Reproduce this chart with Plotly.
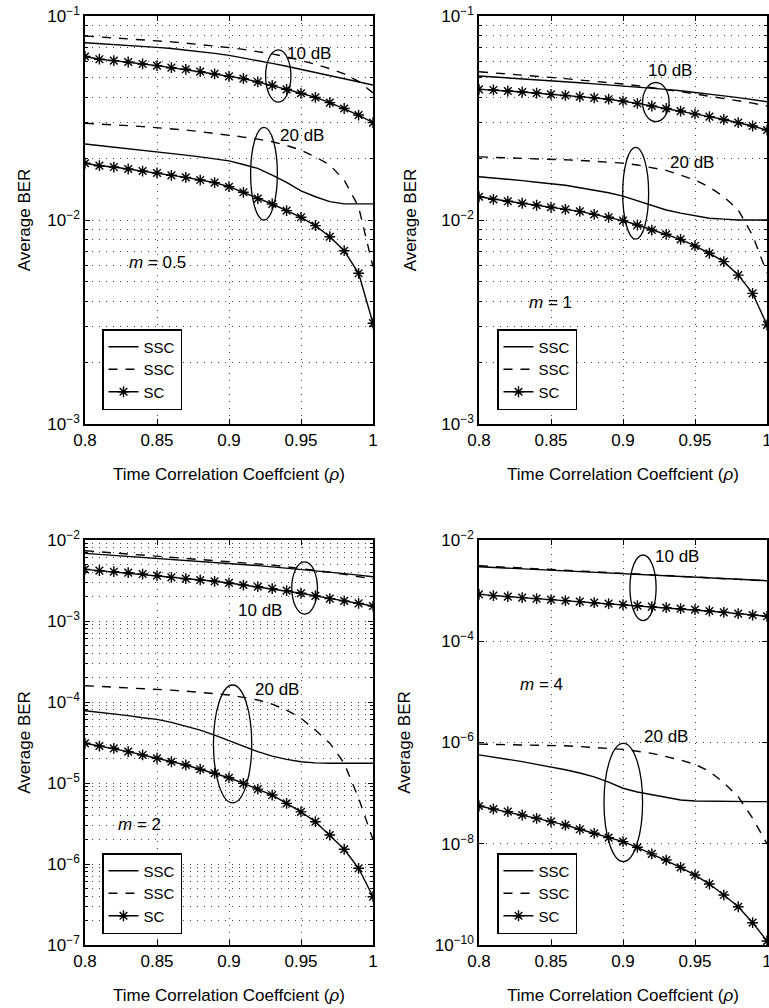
import plotly.graph_objects as go

# ---------------- data ----------------
rho = [0.80, 0.81, 0.82, 0.83, 0.84, 0.85, 0.86, 0.87, 0.88, 0.89, 0.90,
       0.91, 0.92, 0.93, 0.94, 0.95, 0.96, 0.97, 0.98, 0.99, 1.00]

# m = 0.5
m05_ssc_solid_10 = [0.0740, 0.0733, 0.0725, 0.0718, 0.0710, 0.0702, 0.0693, 0.0682, 0.0670, 0.0656, 0.0641,
                    0.0623, 0.0605, 0.0586, 0.0567, 0.0548, 0.0530, 0.0512, 0.0494, 0.0476, 0.0459]
m05_ssc_dash_10 = [0.0798, 0.0790, 0.0782, 0.0774, 0.0766, 0.0757, 0.0747, 0.0736, 0.0725, 0.0713, 0.0700,
                   0.0686, 0.0670, 0.0652, 0.0630, 0.0606, 0.0580, 0.0552, 0.0520, 0.0478, 0.0420]
m05_sc_10 = [0.0633, 0.0614, 0.0604, 0.0595, 0.0582, 0.0571, 0.0558, 0.0548, 0.0534, 0.0520, 0.0506,
             0.0493, 0.0475, 0.0457, 0.0437, 0.0418, 0.0399, 0.0376, 0.0352, 0.0327, 0.0300]
m05_ssc_solid_20 = [0.0236, 0.0232, 0.0228, 0.0224, 0.0220, 0.0216, 0.0212, 0.0208, 0.0204, 0.0200, 0.0195,
                    0.0187, 0.0179, 0.0166, 0.0153, 0.0139, 0.0130, 0.0123, 0.0120, 0.0120, 0.0120]
m05_ssc_dash_20 = [0.0298, 0.0296, 0.0293, 0.0290, 0.0287, 0.0284, 0.0280, 0.0276, 0.0271, 0.0266, 0.0261,
                   0.0255, 0.0249, 0.0242, 0.0232, 0.0220, 0.0204, 0.0186, 0.0157, 0.0116, 0.0059]
m05_sc_20 = [0.01897, 0.01846, 0.01818, 0.01778, 0.01738, 0.01700, 0.01656, 0.01618, 0.01570, 0.01524, 0.01456,
             0.01367, 0.01273, 0.01198, 0.01111, 0.01031, 0.00938, 0.00828, 0.00707, 0.00548, 0.00312]

# m = 1
m1_ssc_solid_10 = [0.0508, 0.0503, 0.0498, 0.0492, 0.0487, 0.0482, 0.0477, 0.0471, 0.0465, 0.0460, 0.0454,
                   0.0449, 0.0443, 0.0437, 0.0430, 0.0423, 0.0415, 0.0406, 0.0398, 0.0389, 0.0380]
m1_ssc_dash_10 = [0.0533, 0.0527, 0.0520, 0.0513, 0.0507, 0.0500, 0.0493, 0.0486, 0.0479, 0.0471, 0.0464,
                  0.0455, 0.0446, 0.0437, 0.0426, 0.0415, 0.0405, 0.0395, 0.0385, 0.0374, 0.0362]
m1_sc_10 = [0.0437, 0.0434, 0.0429, 0.0424, 0.0419, 0.0413, 0.0408, 0.0402, 0.0397, 0.0391, 0.0383,
            0.0373, 0.0362, 0.0352, 0.0342, 0.0331, 0.0321, 0.0311, 0.0300, 0.0289, 0.0276]
m1_ssc_solid_20 = [0.0163, 0.0161, 0.0158, 0.0156, 0.0153, 0.0151, 0.0148, 0.0144, 0.0140, 0.0136, 0.0131,
                   0.0124, 0.0118, 0.0112, 0.0108, 0.0105, 0.0102, 0.0101, 0.0100, 0.0100, 0.0100]
m1_ssc_dash_20 = [0.0204, 0.0203, 0.0202, 0.0201, 0.0200, 0.0199, 0.0197, 0.0196, 0.0194, 0.0192, 0.0190,
                  0.0186, 0.0181, 0.0175, 0.0166, 0.0157, 0.0145, 0.0130, 0.0112, 0.0084, 0.0055]
m1_sc_20 = [0.0130, 0.01262, 0.01235, 0.01208, 0.01181, 0.01155, 0.01128, 0.01102, 0.01066, 0.01031, 0.00993,
            0.00945, 0.00893, 0.00851, 0.00804, 0.00746, 0.00687, 0.00625, 0.00537, 0.00437, 0.00306]

# m = 2
m2_ssc_solid_10 = [0.00684, 0.00665, 0.00648, 0.00630, 0.00613, 0.00597, 0.00580, 0.00563, 0.00547, 0.00531, 0.00515,
                   0.00498, 0.00482, 0.00466, 0.00450, 0.00434, 0.00417, 0.00400, 0.00384, 0.00368, 0.00352]
m2_ssc_dash_10 = [0.00738, 0.00715, 0.00694, 0.00672, 0.00652, 0.00632, 0.00613, 0.00596, 0.00580, 0.00564, 0.00548,
                  0.00530, 0.00511, 0.00490, 0.00468, 0.00446, 0.00423, 0.00400, 0.00377, 0.00354, 0.00330]
m2_sc_10 = [0.00434, 0.00418, 0.00406, 0.00395, 0.00380, 0.00363, 0.00346, 0.00333, 0.00321, 0.00309, 0.00295,
            0.00278, 0.00265, 0.00251, 0.00237, 0.00220, 0.00204, 0.00189, 0.00177, 0.00165, 0.00153]
m2_ssc_solid_20 = [7.8e-5, 7.5e-5, 7.1e-5, 6.8e-5, 6.4e-5, 6.1e-5, 5.6e-5, 5.0e-5, 4.5e-5, 3.9e-5, 3.33e-5,
                   2.85e-5, 2.44e-5, 2.15e-5, 1.96e-5, 1.83e-5, 1.77e-5, 1.75e-5, 1.75e-5, 1.75e-5, 1.75e-5]
m2_ssc_dash_20 = [1.59e-4, 1.56e-4, 1.53e-4, 1.50e-4, 1.47e-4, 1.44e-4, 1.40e-4, 1.36e-4, 1.32e-4, 1.27e-4, 1.22e-4,
                  1.14e-4, 1.06e-4, 9.4e-5, 7.96e-5, 6.3e-5, 4.5e-5, 3.1e-5, 1.75e-5, 6.5e-6, 2.0e-6]
m2_sc_20 = [3.09e-5, 2.86e-5, 2.68e-5, 2.44e-5, 2.22e-5, 2.02e-5, 1.83e-5, 1.67e-5, 1.48e-5, 1.32e-5, 1.16e-5,
            9.9e-6, 8.4e-6, 7.1e-6, 5.6e-6, 4.4e-6, 3.33e-6, 2.28e-6, 1.52e-6, 8.85e-7, 3.95e-7]

# m = 4
m4_ssc_solid_10 = [2.97e-3, 2.88e-3, 2.80e-3, 2.72e-3, 2.64e-3, 2.56e-3, 2.48e-3, 2.41e-3, 2.34e-3, 2.27e-3, 2.20e-3,
                   2.13e-3, 2.06e-3, 2.00e-3, 1.94e-3, 1.88e-3, 1.82e-3, 1.76e-3, 1.70e-3, 1.63e-3, 1.57e-3]
m4_ssc_dash_10 = [3.10e-3, 3.00e-3, 2.90e-3, 2.81e-3, 2.72e-3, 2.63e-3, 2.55e-3, 2.46e-3, 2.38e-3, 2.30e-3, 2.22e-3,
                  2.14e-3, 2.07e-3, 2.00e-3, 1.93e-3, 1.87e-3, 1.80e-3, 1.74e-3, 1.68e-3, 1.62e-3, 1.56e-3]
m4_sc_10 = [8.45e-4, 7.95e-4, 7.60e-4, 7.26e-4, 6.94e-4, 6.63e-4, 6.34e-4, 6.05e-4, 5.78e-4, 5.52e-4, 5.28e-4,
            5.05e-4, 4.82e-4, 4.61e-4, 4.40e-4, 4.21e-4, 3.96e-4, 3.73e-4, 3.51e-4, 3.30e-4, 3.11e-4]
m4_ssc_solid_20 = [5.7e-7, 5.2e-7, 4.7e-7, 4.2e-7, 3.7e-7, 3.3e-7, 2.9e-7, 2.5e-7, 2.1e-7, 1.65e-7, 1.25e-7,
                   1.05e-7, 9.2e-8, 8.2e-8, 7.3e-8, 7.0e-8, 6.9e-8, 6.8e-8, 6.8e-8, 6.8e-8, 6.8e-8]
m4_ssc_dash_20 = [9.3e-7, 9.2e-7, 9.1e-7, 9.0e-7, 8.9e-7, 8.8e-7, 8.6e-7, 8.3e-7, 8.0e-7, 7.7e-7, 7.3e-7,
                  6.7e-7, 6.1e-7, 5.25e-7, 4.5e-7, 3.7e-7, 2.7e-7, 1.6e-7, 8.5e-8, 3.2e-8, 1.0e-8]
m4_sc_20 = [5.57e-8, 4.86e-8, 4.30e-8, 3.70e-8, 3.18e-8, 2.73e-8, 2.34e-8, 1.93e-8, 1.61e-8, 1.32e-8, 1.10e-8,
            8.5e-9, 6.3e-9, 4.77e-9, 3.42e-9, 2.41e-9, 1.60e-9, 9.7e-10, 5.7e-10, 2.76e-10, 1.2e-10]

x_tickvals = [0.8, 0.85, 0.9, 0.95, 1.0]
x_ticktext = ["0.8", "0.85", "0.9", "0.95", "1"]

panel_m = ["0.5", "1", "2", "4"]
y_decades = [(-3, -1, 1, True), (-3, -1, 1, True), (-7, -2, 1, True), (-10, -2, 2, False)]

series = [
    (m05_ssc_solid_10, m05_ssc_dash_10, m05_sc_10, m05_ssc_solid_20, m05_ssc_dash_20, m05_sc_20),
    (m1_ssc_solid_10, m1_ssc_dash_10, m1_sc_10, m1_ssc_solid_20, m1_ssc_dash_20, m1_sc_20),
    (m2_ssc_solid_10, m2_ssc_dash_10, m2_sc_10, m2_ssc_solid_20, m2_ssc_dash_20, m2_sc_20),
    (m4_ssc_solid_10, m4_ssc_dash_10, m4_sc_10, m4_ssc_solid_20, m4_ssc_dash_20, m4_sc_20),
]

# ---------------- layout geometry ----------------
W, H = 769, 1008
FONT = "Liberation Sans, Arial, Helvetica, sans-serif"
FS = 17
LFS = 15

xdom = [(85 / W, 373 / W), (479 / W, 767 / W), (85 / W, 373 / W), (479 / W, 767 / W)]
ydom = [(1 - 424 / H, 1 - 16 / H), (1 - 424 / H, 1 - 16 / H),
        (1 - 945 / H, 1 - 540 / H), (1 - 945 / H, 1 - 540 / H)]
legend_pos = [(102 / W, 1 - 329 / H), (497 / W, 1 - 329 / H),
              (102 / W, 1 - 853 / H), (497 / W, 1 - 853 / H)]
y_standoff = [12, 20, 12, 20]

# ellipses (domain coords x0,x1,y0,y1) and labels (x, y) per panel
ellipses = [
    [(0.627, 0.715, 0.789, 0.917), (0.575, 0.668, 0.500, 0.727)],
    [(0.568, 0.660, 0.741, 0.837), (0.499, 0.589, 0.453, 0.678)],
    [(0.718, 0.807, 0.817, 0.946), (0.446, 0.579, 0.351, 0.642)],
    [(0.524, 0.615, 0.801, 0.963), (0.434, 0.568, 0.206, 0.498)],
]
labels10 = [(0.778, 0.909), (0.663, 0.866), (0.608, 0.827), (0.686, 0.959)]
labels20 = [(0.752, 0.706), (0.738, 0.641), (0.666, 0.631), (0.649, 0.516)]
labelsm = [(0.25, 0.395), (0.247, 0.297), (0.189, 0.298), (0.218, 0.644)]

DASH = "9px,8px"
GRID = dict(gridcolor="#444444", griddash="1px,6px", gridwidth=1)

fig = go.Figure()
shapes = []
annotations = []
layout_axes = {}

for i in range(4):
    sfx = "" if i == 0 else str(i + 1)
    xa, ya = "x" + sfx, "y" + sfx
    leg = "legend" if i == 0 else "legend" + str(i + 1)
    s_solid10, s_dash10, sc10, s_solid20, s_dash20, sc20 = series[i]

    for j, (sol, das, sc) in enumerate([(s_solid10, s_dash10, sc10), (s_solid20, s_dash20, sc20)]):
        show = j == 0
        fig.add_trace(go.Scatter(x=rho, y=sol, mode="lines", name="SSC", legend=leg,
                                 line=dict(color="black", width=1.4), showlegend=show,
                                 xaxis=xa, yaxis=ya))
        fig.add_trace(go.Scatter(x=rho, y=das, mode="lines", name="SSC", legend=leg,
                                 line=dict(color="black", width=1.4, dash=DASH), showlegend=show,
                                 xaxis=xa, yaxis=ya))
        fig.add_trace(go.Scatter(x=rho, y=sc, mode="lines+markers", name="SC", legend=leg,
                                 line=dict(color="black", width=1.4),
                                 marker=dict(symbol="asterisk-open", size=9, color="black",
                                             line=dict(color="black", width=1.4)),
                                 showlegend=show, xaxis=xa, yaxis=ya))

    lo, hi, step, minor = y_decades[i]
    major = [10.0 ** k for k in range(lo, hi + 1, step)]
    major_text = ["10<sup>\u2212%d</sup>" % (-k) for k in range(lo, hi + 1, step)]
    minor_vals = [m * 10.0 ** k for k in range(lo, hi) for m in range(2, 10)] if minor else []

    xkey = "xaxis" if i == 0 else "xaxis" + str(i + 1)
    ykey = "yaxis" if i == 0 else "yaxis" + str(i + 1)
    layout_axes[xkey] = dict(
        domain=list(xdom[i]), anchor=ya, range=[0.8, 1.0], automargin=False,
        tickmode="array", tickvals=x_tickvals, ticktext=x_ticktext,
        ticks="inside", ticklen=5, tickcolor="black", tickwidth=1,
        showline=True, linecolor="black", linewidth=1.6, mirror="ticks",
        showgrid=True, zeroline=False, ticklabeloverflow="allow", **GRID,
        tickfont=dict(family=FONT, size=FS, color="black"),
        title=dict(text="Time Correlation Coeffcient (<i>\u03c1</i>)",
                   font=dict(family=FONT, size=FS, color="black"), standoff=19),
    )
    layout_axes[ykey] = dict(
        domain=list(ydom[i]), anchor=xa, type="log", range=[lo, hi], automargin=False,
        tickmode="array", tickvals=major, ticktext=major_text,
        ticks="inside", ticklen=5, tickcolor="black", tickwidth=1,
        showline=True, linecolor="black", linewidth=1.6, mirror="ticks",
        showgrid=True, zeroline=False, ticklabeloverflow="allow", **GRID,
        minor=dict(tickmode="array", tickvals=minor_vals, ticks="inside", ticklen=3,
                   tickcolor="black", showgrid=bool(minor), **GRID),
        tickfont=dict(family=FONT, size=FS, color="black"),
        title=dict(text="Average BER", font=dict(family=FONT, size=FS, color="black"),
                   standoff=y_standoff[i]),
    )

    xr, yr = xa + " domain", ya + " domain"
    for (x0, x1, y0, y1) in ellipses[i]:
        shapes.append(dict(type="circle", xref=xr, yref=yr, x0=x0, x1=x1, y0=y0, y1=y1,
                           line=dict(color="black", width=1.3)))
    for (lx, ly), txt in [(labels10[i], "10 dB"), (labels20[i], "20 dB"),
                          (labelsm[i], "<i>m</i> = " + panel_m[i])]:
        annotations.append(dict(xref=xr, yref=yr, x=lx, y=ly, text=txt, showarrow=False,
                                xanchor="center", yanchor="middle",
                                font=dict(family=FONT, size=FS, color="black")))

    layout_axes[leg] = dict(
        x=legend_pos[i][0], y=legend_pos[i][1], xanchor="left", yanchor="top",
        bgcolor="white", bordercolor="black", borderwidth=1.5,
        font=dict(family=FONT, size=LFS, color="black"),
        tracegroupgap=0, itemwidth=30,
    )

fig.update_layout(
    template="none",
    width=W, height=H, margin=dict(l=0, r=0, t=0, b=0, autoexpand=False),
    paper_bgcolor="white", plot_bgcolor="white",
    font=dict(family=FONT, size=FS, color="black"),
    shapes=shapes, annotations=annotations,
    **layout_axes,
)

fig.write_html(
    "out.html",
    config={"displayModeBar": False},
    post_script="document.body.style.margin='0px';document.body.style.padding='0px';"
                "document.documentElement.style.overflow='hidden';",
)
